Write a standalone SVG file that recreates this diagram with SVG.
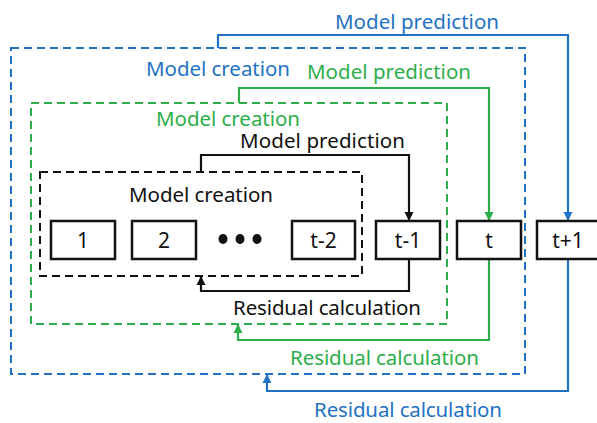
<svg xmlns="http://www.w3.org/2000/svg" width="597" height="423" viewBox="0 0 597 423">
<style>
text{font-family:"Noto Sans","Open Sans","Liberation Sans",sans-serif;font-size:20.5px}
.lbl{text-anchor:start}
.num{text-anchor:middle;font-size:21px;fill:#111}
.box{fill:#fff;stroke:#111;stroke-width:2.5}
.dash{fill:none;stroke-width:2;stroke-dasharray:8 5}
.con{fill:none;stroke-width:2.2}
.k{stroke:#111}.g{stroke:#2EAD4B}.b{stroke:#2272C3}
.tk{fill:#111}.tg{fill:#2EAD4B}.tb{fill:#2272C3}
</style>
<defs>
<marker id="ak" viewBox="0 0 10 10" refX="10" refY="5" markerWidth="4.2" markerHeight="4.2" orient="auto"><path d="M0,0L10,5L0,10z" fill="#111"/></marker>
<marker id="ag" viewBox="0 0 10 10" refX="10" refY="5" markerWidth="4.2" markerHeight="4.2" orient="auto"><path d="M0,0L10,5L0,10z" fill="#2EAD4B"/></marker>
<marker id="ab" viewBox="0 0 10 10" refX="10" refY="5" markerWidth="4.2" markerHeight="4.2" orient="auto"><path d="M0,0L10,5L0,10z" fill="#2272C3"/></marker>
</defs>
<rect width="597" height="423" fill="#fff"/>
<g id="blue-region">
<rect class="dash b" x="11" y="48" width="514" height="326"/>
<text class="lbl tb" x="146" y="76" textLength="144">Model creation</text>
</g>
<g id="green-region">
<rect class="dash g" x="31" y="103" width="416" height="221"/>
<text class="lbl tg" x="156" y="126" textLength="144">Model creation</text>
</g>
<g id="black-region">
<rect class="dash k" x="40" y="172" width="322" height="104"/>
<text class="lbl tk" x="129" y="202" textLength="144">Model creation</text>
</g>
<g id="connectors">
<path class="con k" d="M201,172V155H409V221" marker-end="url(#ak)"/>
<path class="con k" d="M409,259V291H201V276" marker-end="url(#ak)"/>
<path class="con g" d="M239,103V88H489V221" marker-end="url(#ag)"/>
<path class="con g" d="M489,259V340H238V324" marker-end="url(#ag)"/>
<path class="con b" d="M218,48V35H568V221" marker-end="url(#ab)"/>
<path class="con b" d="M568,259V391H267V374" marker-end="url(#ab)"/>
<text class="lbl tk" x="240" y="148" textLength="165">Model prediction</text>
<text class="lbl tk" x="233" y="315" textLength="188">Residual calculation</text>
<text class="lbl tg" x="307" y="79" textLength="164">Model prediction</text>
<text class="lbl tg" x="290" y="365" textLength="189">Residual calculation</text>
<text class="lbl tb" x="335" y="29" textLength="164">Model prediction</text>
<text class="lbl tb" x="314" y="417" textLength="188">Residual calculation</text>
</g>
<g id="node-1"><rect class="box" x="51" y="221" width="64" height="38"/><text class="num" x="83" y="247.5">1</text></g>
<g id="node-2"><rect class="box" x="132" y="221" width="64" height="38"/><text class="num" x="164" y="247.5">2</text></g>
<g id="node-dots"><ellipse cx="223" cy="239" rx="4.5" ry="5" fill="#111"/><ellipse cx="240" cy="239" rx="4.5" ry="5" fill="#111"/><ellipse cx="257" cy="239" rx="4.5" ry="5" fill="#111"/></g>
<g id="node-t-2"><rect class="box" x="292" y="221" width="63" height="38"/><text class="num" x="323.5" y="247.5">t-2</text></g>
<g id="node-t-1"><rect class="box" x="376" y="221" width="64" height="38"/><text class="num" x="408" y="247.5">t-1</text></g>
<g id="node-t"><rect class="box" x="457" y="221" width="64" height="38"/><text class="num" x="489" y="247.5">t</text></g>
<g id="node-t+1"><rect class="box" x="537" y="221" width="62" height="38"/><text class="num" x="568" y="247.5">t+1</text></g>
</svg>
